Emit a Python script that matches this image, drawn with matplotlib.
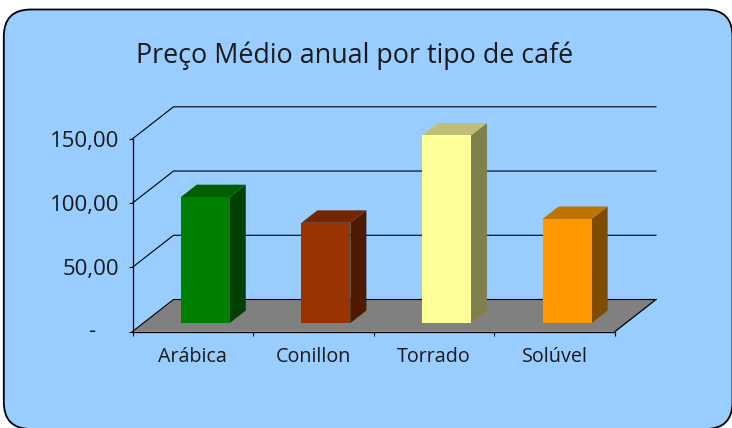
import matplotlib
matplotlib.use("Agg")
import matplotlib.pyplot as plt
from matplotlib.patches import FancyBboxPatch, Polygon

categories = ["Arábica", "Conillon", "Torrado", "Solúvel"]
precos = [98, 78, 146, 81]
front_colors = ["#008000", "#993300", "#FFFF99", "#FF9900"]
top_colors = ["#006000", "#732600", "#BFBF73", "#BF7300"]
side_colors = ["#004000", "#4D1A00", "#80804D", "#804D00"]
y_ticks = [0, 50, 100, 150]
y_labels = ["", "50,00", "100,00", "150,00"]
title = "Preço Médio anual por tipo de café"

W, H = 732, 428
plt.rcParams["font.family"] = ["Open Sans", "DejaVu Sans"]
fig = plt.figure(figsize=(W / 100, H / 100), dpi=100, facecolor="white")

# chart background: rounded box whose lower edge runs just off the canvas
bg = fig.add_axes([0, 0, 1, 1], zorder=0)
bg.set_xlim(0, W); bg.set_ylim(H, 0); bg.axis("off")
bg.add_patch(FancyBboxPatch((3.8, 9.5), W - 3.3, H - 8.5,
                            boxstyle="round,pad=0,rounding_size=27",
                            fc="#99CCFF", ec="black", lw=1.3, clip_on=True))

# plot frame: front plane
L, R, T, B = 132.5, 615.0, 138.8, 331.5
ax = fig.add_axes([L / W, 1 - B / H, (R - L) / W, (B - T) / H], zorder=1)
ax.set_xlim(0, 4); ax.set_ylim(0, 150)
ax.patch.set_alpha(0)

DX, DY = 41 / 120.6, 32 / 1.285        # depth of the 3-D box, in data units
OX, OY = 0.103, 6.6                    # bar offset from the front plane
BW, BDX, BDY = 0.406, 0.133, 9.7       # bar width and depth

# floor
ax.add_patch(Polygon([(0, 0), (4, 0), (4 + DX, DY), (DX, DY)], closed=True,
                     fc="#808080", ec="none", clip_on=False, zorder=1))
ax.plot([4, 4 + DX], [0, DY], color="black", lw=0.9, clip_on=False, zorder=2)

# grid on side and back walls
for t in y_ticks:
    ax.plot([0, DX, 4 + DX], [t, t + DY, t + DY], color="black", lw=0.8,
            clip_on=False, zorder=2, solid_joinstyle="miter")

# bars
for i, v in enumerate(precos):
    x0 = i + 0.5 - BW / 2 + OX
    x1 = x0 + BW
    y0 = OY
    y1 = OY + v
    ax.add_patch(Polygon([(x1, y0), (x1 + BDX, y0 + BDY), (x1 + BDX, y1 + BDY), (x1, y1)],
                         fc=side_colors[i], ec="none", clip_on=False, zorder=3))
    ax.add_patch(Polygon([(x0, y1), (x1, y1), (x1 + BDX, y1 + BDY), (x0 + BDX, y1 + BDY)],
                         fc=top_colors[i], ec="none", clip_on=False, zorder=3))
    ax.add_patch(Polygon([(x0, y0), (x1, y0), (x1, y1), (x0, y1)],
                         fc=front_colors[i], ec="none", clip_on=False, zorder=4))

# axes
for s in ["top", "right"]:
    ax.spines[s].set_visible(False)
for s in ["left", "bottom"]:
    ax.spines[s].set_linewidth(0.9)
    ax.spines[s].set_zorder(5)
ax.set_yticks(y_ticks, y_labels, fontsize=16, color="#1a1a1a")
ax.set_xticks(range(5))
ax.set_xticklabels([])
ax.tick_params(axis="both", length=3.2, width=0.8, colors="black")
ax.tick_params(axis="y", pad=6, labelcolor="#1a1a1a")
for i, c in enumerate(categories):
    ax.annotate(c, xy=(i + 0.5, 0), xycoords="data", xytext=(0, -25 * 0.72),
                textcoords="offset points", ha="center", va="center",
                fontsize=14.2, color="#1a1a1a")
ax.annotate("-", xy=(0, 0), xycoords="data", xytext=(-41 * 0.72, 0),
            textcoords="offset points", ha="center", va="center",
            fontsize=16, color="#1a1a1a")

fig.text(354.5 / W, 1 - 56 / H, title, ha="center", va="center", fontsize=19.4, color="#1a1a1a")

fig.savefig("out.png", dpi=100, facecolor="white")
